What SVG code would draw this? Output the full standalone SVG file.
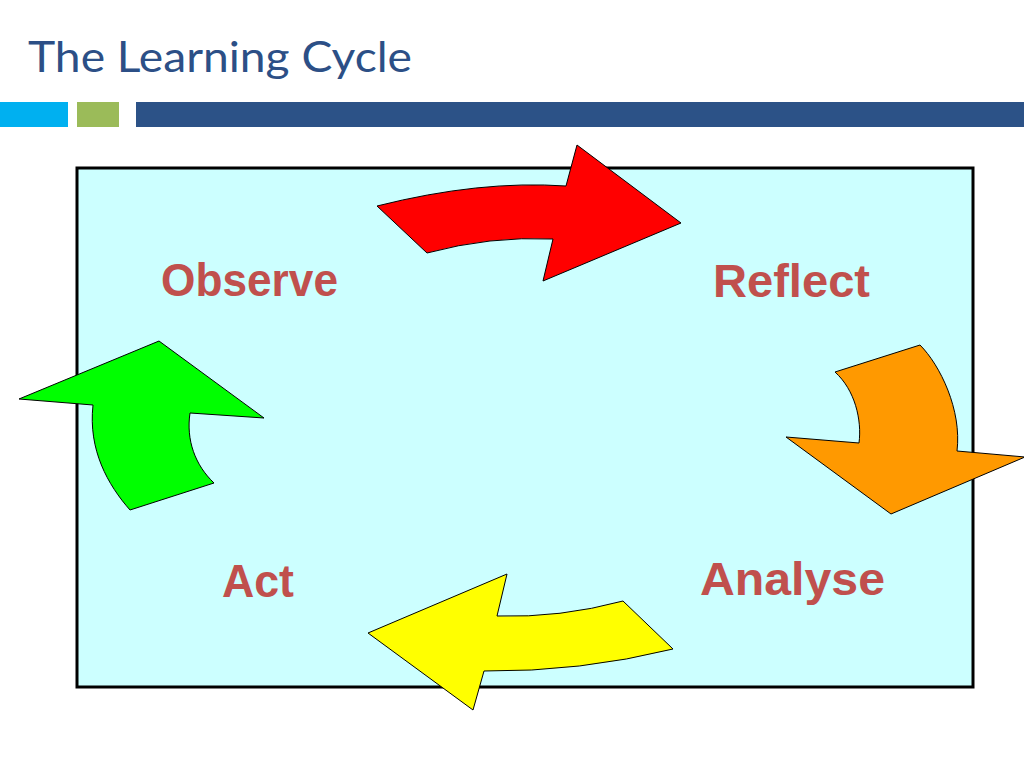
<svg xmlns="http://www.w3.org/2000/svg" width="1024" height="768" viewBox="0 0 1024 768">
<style>
.lbl{font-family:"Liberation Sans",Arial,sans-serif;font-weight:bold;font-size:46px;fill:#C0504D;text-anchor:middle}
.title{font-family:Lato,"Open Sans",sans-serif;font-size:42px;fill:#2C4F86}
.arr{stroke:#000;stroke-width:1;stroke-linejoin:miter}
</style>
<rect width="1024" height="768" fill="#fff"/>
<text class="title" x="28" y="72" textLength="384" lengthAdjust="spacingAndGlyphs">The Learning Cycle</text>
<rect x="0" y="102" width="68" height="25" fill="#00B0F0"/>
<rect x="77" y="102" width="42" height="25" fill="#9BBB59"/>
<rect x="136" y="102" width="888" height="25" fill="#2C5287"/>
<rect id="frame" x="77" y="168" width="896" height="519" fill="#CCFFFF" stroke="#000" stroke-width="3"/>
<g id="connectors">
<path id="arrow-red" class="arr" fill="#FF0000" d="M377,206 Q480,180 566,186 L577,145 L681,223 L543,281 L553,239 Q490,236 427,253 Z"/>
<path id="arrow-orange" class="arr" fill="#FF9900" d="M835,372 L920,345 C940,365 962,410 957,451 L1025,457 L891,514 L786,437 L859,443 C862,420 855,390 835,372 Z"/>
<path id="arrow-yellow" class="arr" fill="#FFFF00" d="M623,601 L673,649 Q580,672 484,671 L473,710 L368,633 L507,574 L497,616 Q560,618 623,601 Z"/>
<path id="arrow-green" class="arr" fill="#00FF00" d="M130,510 C108,485 88,450 93,405 L19,399 L159,341 L264,418 L190,413 C186,440 195,465 214,483 Z"/>
</g>
<g id="observe"><text class="lbl" x="249.5" y="296" textLength="177" lengthAdjust="spacingAndGlyphs">Observe</text></g>
<g id="reflect"><text class="lbl" x="791.5" y="297" textLength="157" lengthAdjust="spacingAndGlyphs">Reflect</text></g>
<g id="analyse"><text class="lbl" x="792.5" y="595" textLength="185" lengthAdjust="spacingAndGlyphs">Analyse</text></g>
<g id="act"><text class="lbl" x="258" y="597" textLength="72" lengthAdjust="spacingAndGlyphs">Act</text></g>
</svg>
